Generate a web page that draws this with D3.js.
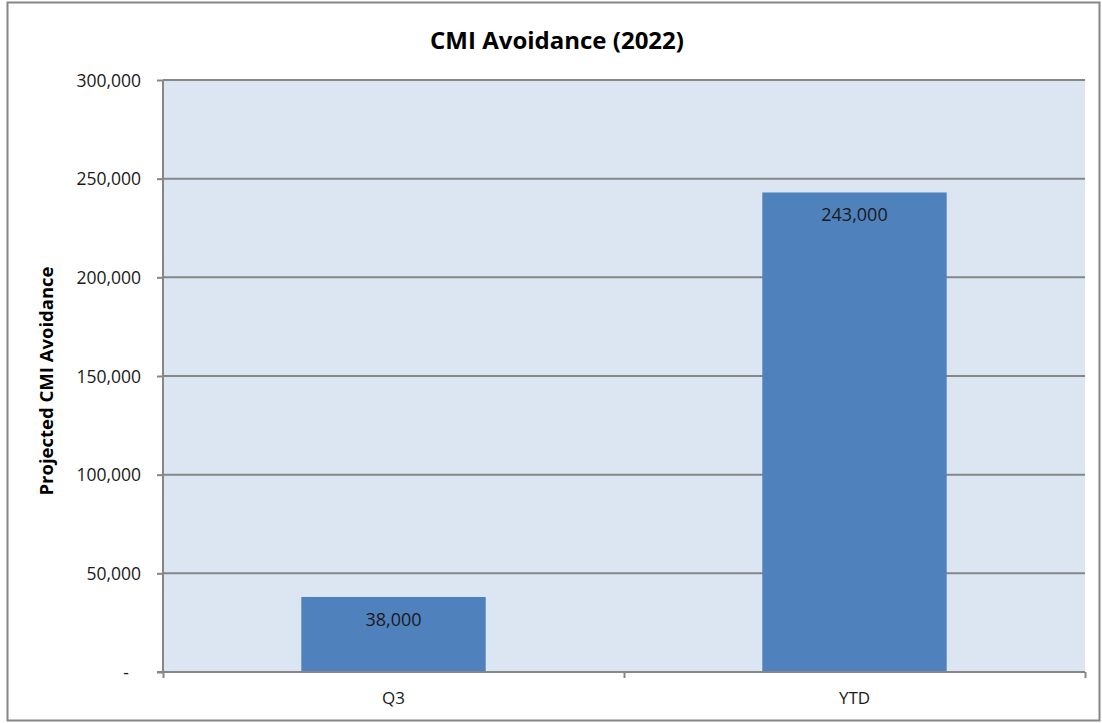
<!DOCTYPE html>
<html><head><meta charset="utf-8">
<script src="https://cdn.jsdelivr.net/npm/d3@7"></script>
<style>body{margin:0;background:#fff;} text{font-family:"Open Sans","Liberation Sans",sans-serif;}</style>
</head><body>
<svg id="c" width="1102" height="723"></svg>
<script>
const categories = ["Q3", "YTD"];
const values = [38000, 243000];
const yTicks = [0, 50000, 100000, 150000, 200000, 250000, 300000];
const title = "CMI Avoidance (2022)";
const yTitle = "Projected CMI Avoidance";

const svg = d3.select("#c");
const m = {left:163, right:1085, top:80, bottom:672};

svg.append("rect").attr("x",7.5).attr("y",2.5).attr("width",1092).attr("height",718)
  .attr("fill","#fff").attr("stroke","#868686").attr("stroke-width",2);

const x = d3.scaleBand().domain(categories).range([m.left, m.right]).paddingInner(0.6).paddingOuter(0.3);
const y = d3.scaleLinear().domain([0,300000]).range([m.bottom, m.top]);

svg.append("rect").attr("x",m.left).attr("y",m.top).attr("width",m.right-m.left).attr("height",m.bottom-m.top).attr("fill","#dce6f2");

// gridlines
svg.append("g").selectAll("line").data(yTicks.filter(d=>d>0)).join("line")
  .attr("x1",m.left).attr("x2",m.right).attr("y1",d=>y(d)).attr("y2",d=>y(d))
  .attr("stroke","#868686").attr("stroke-width",2);

// bars
svg.append("g").selectAll("rect").data(values).join("rect")
  .attr("x",(d,i)=>x(categories[i])).attr("width",x.bandwidth())
  .attr("y",d=>y(d)).attr("height",d=>y(0)-y(d)).attr("fill","#4f81bd");

svg.append("g").selectAll("text").data(values).join("text")
  .attr("x",(d,i)=>x(categories[i])+x.bandwidth()/2).attr("y",d=>y(d)+29)
  .attr("text-anchor","middle").attr("font-size",18).attr("fill","#1a1a1a")
  .text(d=>d3.format(",")(d));

// y axis
const yAxis = d3.axisLeft(y).tickValues(yTicks).tickSize(6).tickPadding(16)
  .tickFormat(d=> d===0 ? "-" : d3.format(",")(d));
const gy = svg.append("g").attr("transform",`translate(${m.left},0)`).call(yAxis);
gy.select(".domain").attr("stroke","#868686").attr("stroke-width",2).attr("d",`M0,${m.top}V${m.bottom}`);
gy.selectAll(".tick line").attr("stroke","#868686").attr("stroke-width",2);
gy.selectAll(".tick text").attr("font-size",17.5).attr("fill","#1a1a1a").attr("dy","0.35em")
  .attr("font-family","'Open Sans','Liberation Sans',sans-serif");
gy.selectAll(".tick").filter(d=>d===0).select("text").attr("dx",-12);

// x axis
const xAxis = d3.axisBottom(d3.scaleLinear().domain([0,2]).range([m.left,m.right])).tickValues([0,1,2]).tickSize(6).tickFormat("");
const gx = svg.append("g").attr("transform",`translate(0,${m.bottom})`).call(xAxis);
gx.select(".domain").attr("stroke","#868686").attr("stroke-width",2).attr("d",`M${m.left-6},0H${m.right}`);
gx.selectAll(".tick line").attr("stroke","#868686").attr("stroke-width",2);
svg.append("g").selectAll("text").data(categories).join("text")
  .attr("x",d=>x(d)+x.bandwidth()/2).attr("y",m.bottom+32)
  .attr("text-anchor","middle").attr("font-size",17).attr("fill","#1a1a1a").text(d=>d);

// titles
svg.append("text").attr("x",557).attr("y",49).attr("text-anchor","middle")
  .attr("font-size",24).attr("font-weight","bold").attr("fill","#000").text(title);
svg.append("text").attr("transform",`translate(53,${(m.top+m.bottom)/2+5}) rotate(-90)`)
  .attr("text-anchor","middle").attr("font-size",18.5).attr("font-weight","bold").attr("fill","#000").text(yTitle);
</script>
</body></html>
